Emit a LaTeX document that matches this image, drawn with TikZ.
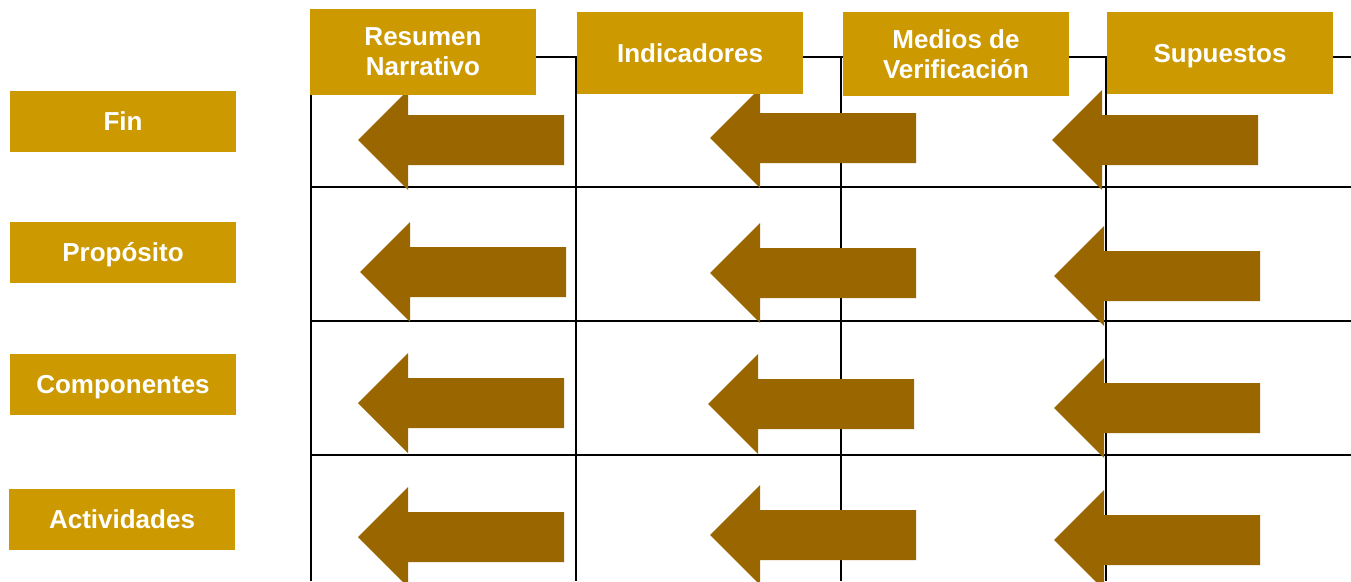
\documentclass[tikz,border=0pt]{standalone}
\usepackage{fontspec}
\setmainfont{Liberation Sans}
\definecolor{boxgold}{HTML}{CC9900}
\definecolor{arrowbrown}{HTML}{996600}

\begin{document}
\begin{tikzpicture}[x=1pt,y=-1pt]
\tikzset{goldbox/.style={fill=boxgold,text=white,align=center,inner sep=0pt,
  font=\bfseries\fontsize{26}{30}\selectfont,minimum width=226pt}}
\tikzset{oneline/.style={goldbox,text height=18.6pt,text depth=0pt}}
\tikzset{gridline/.style={draw=black,line width=2pt}}
\tikzset{bigarrow/.style={fill=arrowbrown}}
\def\boxh{61pt}
\useasboundingbox (0,0) rectangle (1351,581);

% grid of the matrix
\draw[gridline] (311,581) -- (311,57) -- (1351,57);
\foreach \gx in {576,841,1106}
  \draw[gridline] (\gx,57) -- (\gx,581);
\foreach \gy in {187,321,455}
  \draw[gridline] (311,\gy) -- (1351,\gy);

% block arrows, tip given
\foreach \tx/\ty in {358/140,710/138,1052/140,
                     360/272,710/273,1054/276,
                     358/403,708/404,1054/408,
                     358/537,710/535,1054/540}
  \fill[bigarrow] (\tx,\ty) -- ++(50,-50) -- ++(0,25) -- ++(156,0)
    -- ++(0,50) -- ++(-156,0) -- ++(0,25) -- cycle;

% column headers
\node[goldbox,minimum height=86pt] (resumen) at (423,52) {Resumen\\Narrativo};
\node[oneline,minimum height=82pt] (indicadores) at (690,53) {Indicadores};
\node[goldbox,minimum height=84pt] (medios) at (956,54) {Medios de\\Verificación};
\node[oneline,minimum height=82pt] (supuestos) at (1220,53) {Supuestos};

% row labels
\node[oneline,minimum height=\boxh] (fin) at (123,121.5) {Fin};
\node[oneline,minimum height=\boxh] (proposito) at (123,252.5) {Propósito};
\node[oneline,minimum height=\boxh] (componentes) at (123,384.5) {Componentes};
\node[oneline,minimum height=\boxh] (actividades) at (122,519) {Actividades};
\end{tikzpicture}
\end{document}
